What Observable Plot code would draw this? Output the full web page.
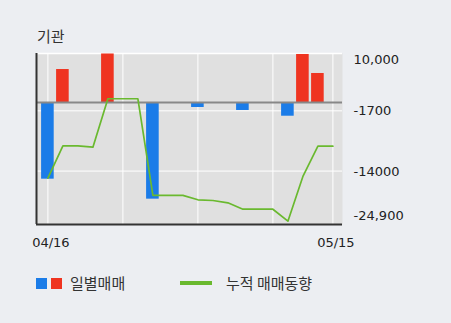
<!DOCTYPE html>
<html>
<head>
<meta charset="utf-8">
<script src="https://cdn.jsdelivr.net/npm/d3@7"></script>
<script src="https://cdn.jsdelivr.net/npm/@observablehq/plot@0.6"></script>
<style>
  html, body { margin: 0; padding: 0; }
  body { width: 451px; height: 323px; background: #eceef2; position: relative; overflow: hidden;
         font-family: "Noto Sans CJK KR", "Noto Sans", sans-serif; }
  #title { position: absolute; left: 37px; top: 26px; font-size: 15px; line-height: 20px; color: #333; }
  #chart { position: absolute; left: 0; top: 0; }
  .leg { position: absolute; }
  .lt { position: absolute; font-size: 15px; line-height: 20px; color: #333; top: 273px; }
</style>
</head>
<body>
<div id="title">기관</div>
<div id="chart"></div>
<div class="leg" style="left:36px;top:278px;width:11px;height:11px;background:#1b7ce8"></div>
<div class="leg" style="left:51px;top:278px;width:11px;height:11px;background:#ef3420"></div>
<div class="lt" style="left:70px">일별매매</div>
<div class="leg" style="left:180px;top:281px;width:32px;height:4px;background:#6ab92f"></div>
<div class="lt" style="left:226px">누적 매매동향</div>
<script>
// trading days
const dates = ["04/16","04/17","04/18","04/19","04/20","04/23","04/24","04/25","04/26","04/27",
               "04/30","05/02","05/03","05/04","05/08","05/09","05/10","05/11","05/14","05/15"];
// daily net buying (bars)
const daily = [-15650, 6730, 0, 0, 9900, 0, 0, -19730, 0, 0,
               -1020, 0, 0, -1630, 0, 0, -2800, 9800, 5920, 0];
// cumulative trend (line)
const cumulative = [-15450, -8840, -8840, -9120, 760, 760, 760, -18960, -18960, -18960,
                    -19860, -20000, -20470, -21780, -21780, -21780, -24220, -15100, -8920, -8920];
// axis ticks
const yTickValues = [10000, -1700, -14000, -24900];
const yTickLabels = ["10,000", "-1700", "-14000", "-24,900"];
const xLabelDays = ["04/16", "05/15"];
const gridDays = ["04/16", "04/23", "04/30", "05/09", "05/15"];

const bars = dates.map((d, i) => ({i, d, v: daily[i]})).filter(b => b.v !== 0);
const cum = dates.map((d, i) => ({i, d, v: cumulative[i]}));
const xDomain = [-0.76, dates.length - 1 + 0.64];
const yDomain = [d3.min(yTickValues), d3.max(yTickValues)];
const fmt = v => yTickLabels[yTickValues.indexOf(v)];
const half = 0.42;

const plot = Plot.plot({
  width: 451,
  height: 250,
  marginTop: 53,
  marginBottom: 26,
  marginLeft: 36,
  marginRight: 109,
  style: {background: "transparent", fontFamily: "DejaVu Sans", fontSize: "13px", color: "#222", overflow: "visible"},
  x: {type: "linear", domain: xDomain},
  y: {type: "linear", domain: yDomain},
  marks: [
    Plot.frame({fill: "#e0e0e0", stroke: null}),
    Plot.ruleY([yTickValues[0]], {stroke: "#ffffff", strokeWidth: 1.5}),
    Plot.ruleY([yTickValues[1], yTickValues[2]], {stroke: "#ffffff", strokeWidth: 1}),
    Plot.ruleX(gridDays.map(d => dates.indexOf(d)), {stroke: "#ffffff", strokeWidth: 1}),
    Plot.rectY(bars, {x1: b => b.i - half, x2: b => b.i + half, y1: 0, y2: "v",
                      fill: b => b.v > 0 ? "#ef3420" : "#1b7ce8"}),
    Plot.ruleY([0], {stroke: "#888888", strokeWidth: 2}),
    Plot.line(cum, {x: "i", y: "v", stroke: "#6ab92f", strokeWidth: 1.7}),
    Plot.ruleX([xDomain[0]], {stroke: "#333333", strokeWidth: 2}),
    Plot.ruleY([yDomain[0]], {stroke: "#333333", strokeWidth: 2}),
    Plot.axisX(xLabelDays.map(d => dates.indexOf(d)), {tickSize: 0, tickPadding: 13, dx: 3, tickFormat: i => dates[i], label: null, fill: "#222"}),
    Plot.axisY([yTickValues[0]], {anchor: "right", tickSize: 0, tickPadding: 11, dy: 6, tickFormat: fmt, label: null, fill: "#222"}),
    Plot.axisY([yTickValues[1], yTickValues[2]], {anchor: "right", tickSize: 0, tickPadding: 11, dy: 0.5, tickFormat: fmt, label: null, fill: "#222"}),
    Plot.axisY([yTickValues[3]], {anchor: "right", tickSize: 0, tickPadding: 11, dy: -9, tickFormat: fmt, label: null, fill: "#222"})
  ]
});
document.getElementById("chart").appendChild(plot);
</script>
</body>
</html>
